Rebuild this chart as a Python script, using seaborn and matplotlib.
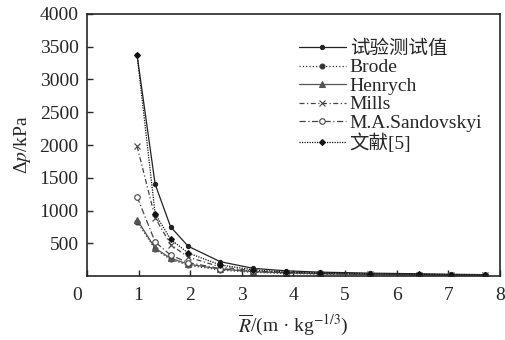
import pandas as pd
import matplotlib.pyplot as plt
import matplotlib.transforms as mtransforms
import seaborn as sns

# scaled distance R/W^(1/3)
r_bar = [0.97, 1.32, 1.62, 1.96, 2.58, 3.22, 3.86, 4.52, 5.48, 6.43, 7.05, 7.71]

# overpressure, kPa
test_vals = [3370, 1400, 750, 455, 220, 118, 80, 60, 45, 35, 28, 22]
brode = [830, 410, 255, 165, 92, 58, 40, 30, 22, 16, 14, 12]
henrych = [860, 425, 272, 183, 106, 68, 48, 36, 26, 20, 17, 15]
mills = [1980, 890, 480, 290, 140, 80, 52, 38, 27, 21, 18, 16]
sandovskyi = [1210, 520, 320, 206, 114, 73, 52, 40, 29, 23, 20, 17]
ref5 = [3370, 950, 560, 352, 170, 95, 62, 48, 36, 28, 23, 19]

series = [
    ('试验测试值', test_vals, dict(color='#222222', linestyle='-', marker='o', markersize=3)),
    ('Brode', brode, dict(color='#333333', linestyle=':', marker='o', markersize=3.5)),
    ('Henrych', henrych, dict(color='#555555', linestyle='-', marker='^', markersize=4)),
    ('Mills', mills, dict(color='#444444', linestyle=(0, (4, 2, 1, 2)), marker='x', markersize=4)),
    ('M.A.Sandovskyi', sandovskyi, dict(color='#444444', linestyle=(0, (5, 2, 1, 2)), marker='o',
                                        markersize=4, markerfacecolor='white')),
    ('文献[5]', ref5, dict(color='#111111', linestyle=(0, (1, 1)), marker='D', markersize=3)),
]

sns.set_style('ticks')
plt.rcParams['font.family'] = ['Liberation Serif', 'Noto Sans CJK SC']
plt.rcParams['mathtext.fontset'] = 'stix'

fig = plt.figure(figsize=(5.06, 3.4), dpi=100)
ax = fig.add_axes([0.172, 0.188, 0.816, 0.771])

for name, vals, style in series:
    sns.lineplot(x=r_bar, y=vals, ax=ax, label=name, linewidth=0.9,
                 markeredgewidth=0.8, markeredgecolor=style['color'], **style)

ax.set_xlim(0, 8)
ax.set_ylim(0, 4000)
ax.set_xticks(range(0, 9))
ax.set_yticks(range(500, 4001, 500))
ax.tick_params(direction='in', length=4, labelsize=14, width=1)
ax.tick_params(axis='x', pad=8)
ax.tick_params(axis='y', pad=6)
for s in ax.spines.values():
    s.set_linewidth(1.2)

# the origin "0" sits a little left of the axis corner
shift = mtransforms.ScaledTranslation(-0.1, 0, fig.dpi_scale_trans)
first = ax.get_xticklabels()[0]
first.set_transform(first.get_transform() + shift)

ax.set_xlabel(r'$\overline{R}$/(m · kg$^{-1/3}$)', fontsize=14, labelpad=6)
ax.set_ylabel(r'Δ$p$/kPa', fontsize=14, labelpad=5)

ax.legend(loc='upper left', bbox_to_anchor=(0.49, 0.94), frameon=False,
          fontsize=14, handlelength=2.4, handletextpad=0.2,
          labelspacing=0.05, borderpad=0)

plt.savefig('out.png', dpi=100)
